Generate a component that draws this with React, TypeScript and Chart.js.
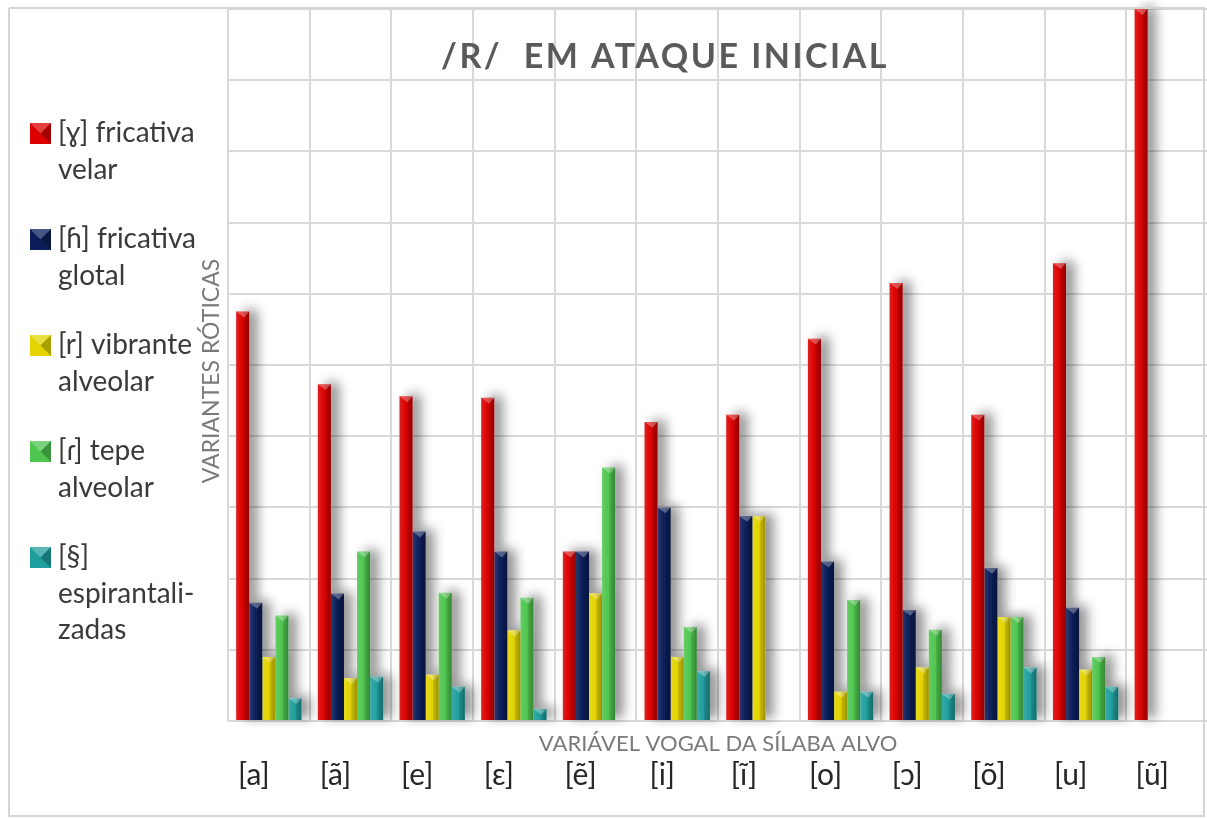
import React, { useEffect, useRef } from 'react';
import { Chart, registerables } from 'chart.js';

Chart.register(...registerables);

// ---- data ----
const categories = ['[a]', '[ã]', '[e]', '[ɛ]', '[ẽ]', '[i]', '[ĩ]', '[o]', '[ɔ]', '[õ]', '[u]', '[ũ]'];
const fricativaVelar = [57.5, 47.3, 45.6, 45.4, 23.8, 42.0, 43.0, 53.7, 61.5, 43.0, 64.3, 100];
const fricativaGlotal = [16.6, 17.9, 26.6, 23.8, 23.8, 30.0, 28.8, 22.4, 15.6, 21.5, 15.9, 0];
const vibranteAlveolar = [9.0, 6.0, 6.5, 12.7, 17.9, 9.0, 28.8, 4.1, 7.5, 14.6, 7.2, 0];
const tepeAlveolar = [14.8, 23.8, 18.0, 17.3, 35.6, 13.2, 0, 17.0, 12.8, 14.6, 9.0, 0];
const espirantalizadas = [3.2, 6.2, 4.8, 1.7, 0, 7.0, 0, 4.1, 3.8, 7.5, 4.8, 0];
const seriesNames = [
  ['[ɣ] fricativa', 'velar'],
  ['[ɦ] fricativa', 'glotal'],
  ['[r] vibrante', 'alveolar'],
  ['[ɾ] tepe', 'alveolar'],
  ['[§]', 'espirantali-', 'zadas'],
];
const seriesColors = ['#DC0000', '#0B1E5A', '#E3D400', '#4FC64F', '#1F9E9E'];
const yMin = 0;
const yMax = 100;
const yStep = 10;
const chartTitle = '/R/  EM ATAQUE INICIAL';
const xTitle = 'VARIÁVEL VOGAL DA SÍLABA ALVO';
const yTitle = 'VARIANTES RÓTICAS';

const FONT = 'Lato, "Open Sans", "DejaVu Sans", sans-serif';
const CANVAS_W = 1220;
const CANVAS_H = 832;

const decorPlugin = {
  id: 'decor',
  beforeDatasetsDraw(chart: any) {
    const ctx = chart.ctx;
    ctx.save();
    ctx.shadowColor = 'rgba(0,0,0,0.45)';
    ctx.shadowBlur = 12;
    ctx.shadowOffsetX = 8;
    ctx.shadowOffsetY = -2;
    ctx.fillStyle = '#ffffff';
    chart.data.datasets.forEach((_ds: any, i: number) => {
      const meta = chart.getDatasetMeta(i);
      meta.data.forEach((el: any) => {
        const { x, y, base, width } = el.getProps(['x', 'y', 'base', 'width'], true);
        if (base - y < 1) return;
        ctx.fillRect(x - width / 2, y, width, base - y);
      });
    });
    ctx.restore();
  },
  afterDatasetsDraw(chart: any) {
    const ctx = chart.ctx;
    ctx.save();
    chart.data.datasets.forEach((_ds: any, i: number) => {
      const meta = chart.getDatasetMeta(i);
      meta.data.forEach((el: any) => {
        const { x, y, base, width } = el.getProps(['x', 'y', 'base', 'width'], true);
        const h = base - y;
        if (h < 1) return;
        const l = x - width / 2;
        const r = x + width / 2;
        const g = ctx.createLinearGradient(l, 0, r, 0);
        g.addColorStop(0, 'rgba(255,255,255,0.12)');
        g.addColorStop(0.5, 'rgba(255,255,255,0.0)');
        g.addColorStop(0.58, 'rgba(0,0,0,0.12)');
        g.addColorStop(1, 'rgba(0,0,0,0.32)');
        ctx.fillStyle = g;
        ctx.fillRect(l, y, width, h);
        const cap = Math.min(width * 0.45, h);
        ctx.beginPath();
        ctx.moveTo(l, y);
        ctx.lineTo(r, y);
        ctx.lineTo(x + width * 0.1, y + cap);
        ctx.closePath();
        ctx.fillStyle = 'rgba(255,255,255,0.3)';
        ctx.fill();
      });
    });
    ctx.restore();
  },
  afterDraw(chart: any) {
    const ctx = chart.ctx;
    const area = chart.chartArea;
    ctx.save();
    // frame
    ctx.strokeStyle = '#d4d4d4';
    ctx.lineWidth = 2;
    ctx.beginPath();
    ctx.moveTo(9, 8);
    ctx.lineTo(9, 816);
    ctx.lineTo(1204, 816);
    ctx.lineTo(1204, 8);
    ctx.lineTo(9, 8);
    ctx.stroke();

    // title
    ctx.fillStyle = '#5a5a5a';
    ctx.font = `bold 34px ${FONT}`;
    ctx.textAlign = 'center';
    ctx.textBaseline = 'middle';
    try { (ctx as any).letterSpacing = '2.5px'; } catch (e) {}
    ctx.fillText(chartTitle, 665, 57);
    try { (ctx as any).letterSpacing = '0px'; } catch (e) {}

    // x axis title
    ctx.fillStyle = '#7a7a7a';
    ctx.font = `22px ${FONT}`;
    ctx.fillText(xTitle, (area.left + area.right) / 2, 744);

    // y axis title
    ctx.save();
    ctx.translate(212, 371);
    ctx.rotate(-Math.PI / 2);
    ctx.font = `23px ${FONT}`;
    ctx.fillText(yTitle, 0, 0);
    ctx.restore();

    // legend
    ctx.textAlign = 'left';
    ctx.font = `28px ${FONT}`;
    let yy = 133;
    seriesNames.forEach((lines, i) => {
      const c = seriesColors[i];
      const sx = 30, sy = yy - 10, s = 21;
      ctx.fillStyle = c;
      ctx.fillRect(sx, sy, s, s);
      ctx.beginPath();
      ctx.moveTo(sx, sy);
      ctx.lineTo(sx + s, sy);
      ctx.lineTo(sx + s / 2, sy + s / 2);
      ctx.closePath();
      ctx.fillStyle = 'rgba(255,255,255,0.25)';
      ctx.fill();
      ctx.beginPath();
      ctx.moveTo(sx + s, sy);
      ctx.lineTo(sx + s, sy + s);
      ctx.lineTo(sx + s / 2, sy + s / 2);
      ctx.closePath();
      ctx.fillStyle = 'rgba(0,0,0,0.25)';
      ctx.fill();
      ctx.fillStyle = '#3a3a3a';
      lines.forEach((t, k) => {
        ctx.fillText(t, 58, yy + k * 36.5);
      });
      yy += lines.length * 36.5 + 33;
    });
    ctx.restore();
  },
};

export default function App() {
  const ref = useRef<HTMLCanvasElement | null>(null);
  useEffect(() => {
    if (!ref.current) return;
    const series = [fricativaVelar, fricativaGlotal, vibranteAlveolar, tepeAlveolar, espirantalizadas];
    const chart = new Chart(ref.current, {
      type: 'bar',
      data: {
        labels: categories,
        datasets: series.map((d, i) => ({
          label: seriesNames[i].join(' '),
          data: d,
          backgroundColor: seriesColors[i],
          borderWidth: 0,
          barPercentage: 1,
          categoryPercentage: 0.8,
        })),
      },
      options: {
        responsive: false,
        animation: false,
        devicePixelRatio: 1,
        layout: { padding: { left: 228, top: 9, right: 0, bottom: 3 } },
        plugins: {
          legend: { display: false },
          title: { display: false },
          tooltip: { enabled: false },
        },
        scales: {
          x: {
            grid: { color: '#d9d9d9', lineWidth: 2, offset: true, drawTicks: false },
            border: { display: false },
            ticks: {
              color: '#262626',
              font: { family: FONT, size: 30 },
              padding: 36,
              labelOffset: -15,
              maxRotation: 0,
              autoSkip: false,
            },
          },
          y: {
            min: yMin,
            max: yMax,
            grid: { color: '#d9d9d9', lineWidth: 2, drawTicks: false },
            border: { display: false },
            ticks: { display: false, stepSize: yStep },
          },
        },
      },
      plugins: [decorPlugin],
    });
    return () => chart.destroy();
  }, []);
  return (
    <div style={{ position: 'fixed', left: 0, top: 0, width: 1207, height: 818, background: '#fff', overflow: 'hidden' }}>
      <canvas ref={ref} width={CANVAS_W} height={CANVAS_H} style={{ display: 'block' }} />
    </div>
  );
}
